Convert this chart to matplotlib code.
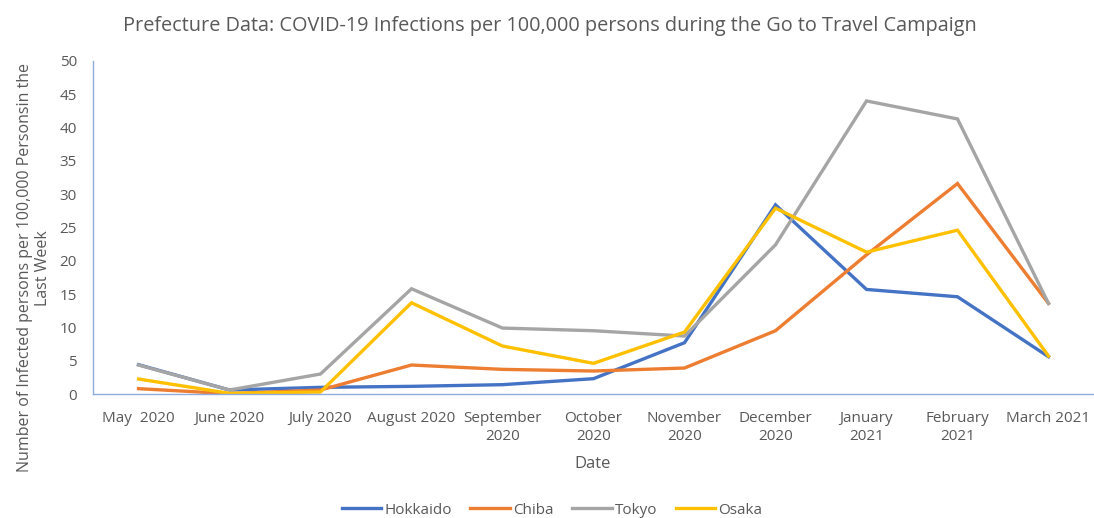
import matplotlib
matplotlib.use("Agg")
import matplotlib.pyplot as plt

months = ["May  2020", "June 2020", "July 2020", "August 2020", "September\n2020",
          "October\n2020", "November\n2020", "December\n2020", "January\n2021",
          "February\n2021", "March 2021"]
hokkaido = [4.4, 0.6, 1.0, 1.15, 1.4, 2.3, 7.7, 28.4, 15.7, 14.6, 5.6]
chiba = [0.8, 0.05, 0.6, 4.35, 3.7, 3.45, 3.9, 9.5, 20.9, 31.6, 13.6]
tokyo = [4.35, 0.6, 3.0, 15.8, 9.9, 9.5, 8.7, 22.4, 44.0, 41.3, 13.6]
osaka = [2.25, 0.1, 0.3, 13.7, 7.2, 4.6, 9.3, 27.9, 21.3, 24.6, 5.7]
series_names = ["Hokkaido", "Chiba", "Tokyo", "Osaka"]
colors = ["#4472C4", "#ED7D31", "#A5A5A5", "#FFC000"]

font = ["Open Sans", "DejaVu Sans"]
plt.rcParams["font.family"] = font
grey = "#595959"

fig = plt.figure(figsize=(10.94, 5.18), dpi=100)
ax = fig.add_axes([93/1094, (518-394)/518, 1 - 93/1094, (394-61)/518])

x = list(range(len(months)))
for vals, name, c in zip([hokkaido, chiba, tokyo, osaka], series_names, colors):
    ax.plot(x, vals, color=c, lw=2.4, label=name, solid_joinstyle="miter")

ax.set_xlim(-0.5, len(months) - 0.5)
ax.set_ylim(0, 50)
ax.set_yticks(range(0, 51, 5))
ax.set_xticks(x)
ax.set_xticklabels(months, fontsize=11, color=grey, linespacing=1.3, va="top")
for lbl in ax.get_yticklabels():
    lbl.set_fontsize(11)
    lbl.set_color(grey)
ax.tick_params(length=0)
ax.tick_params(axis="y", pad=11.5)
ax.tick_params(axis="x", pad=12)
for s in ["top", "right"]:
    ax.spines[s].set_visible(False)
for s in ["left", "bottom"]:
    ax.spines[s].set_color("#8FAADC")
    ax.spines[s].set_linewidth(1.0)

fig.text(550/1094, 1 - 26/518, "Prefecture Data: COVID-19 Infections per 100,000 persons during the Go to Travel Campaign",
         ha="center", va="center", fontsize=14.3, color=grey)
fig.text(593/1094, 1 - 464/518, "Date", ha="center", va="center",
         fontsize=12, color=grey)
fig.text(34/1094, 1 - 268/518, "Number of Infected persons per 100,000 Personsin the\nLast Week",
         ha="center", va="center", rotation=90, fontsize=11.5,
         color=grey, multialignment="center", linespacing=1.2)

leg = fig.legend(loc="center", bbox_to_anchor=(552/1094, 1 - 510/518), ncol=4,
                 frameon=False, handlelength=2.6, columnspacing=1.2, handletextpad=0.2,
                 prop={"size": 11})
for t in leg.get_texts():
    t.set_color(grey)

fig.savefig("out.png", dpi=100)
